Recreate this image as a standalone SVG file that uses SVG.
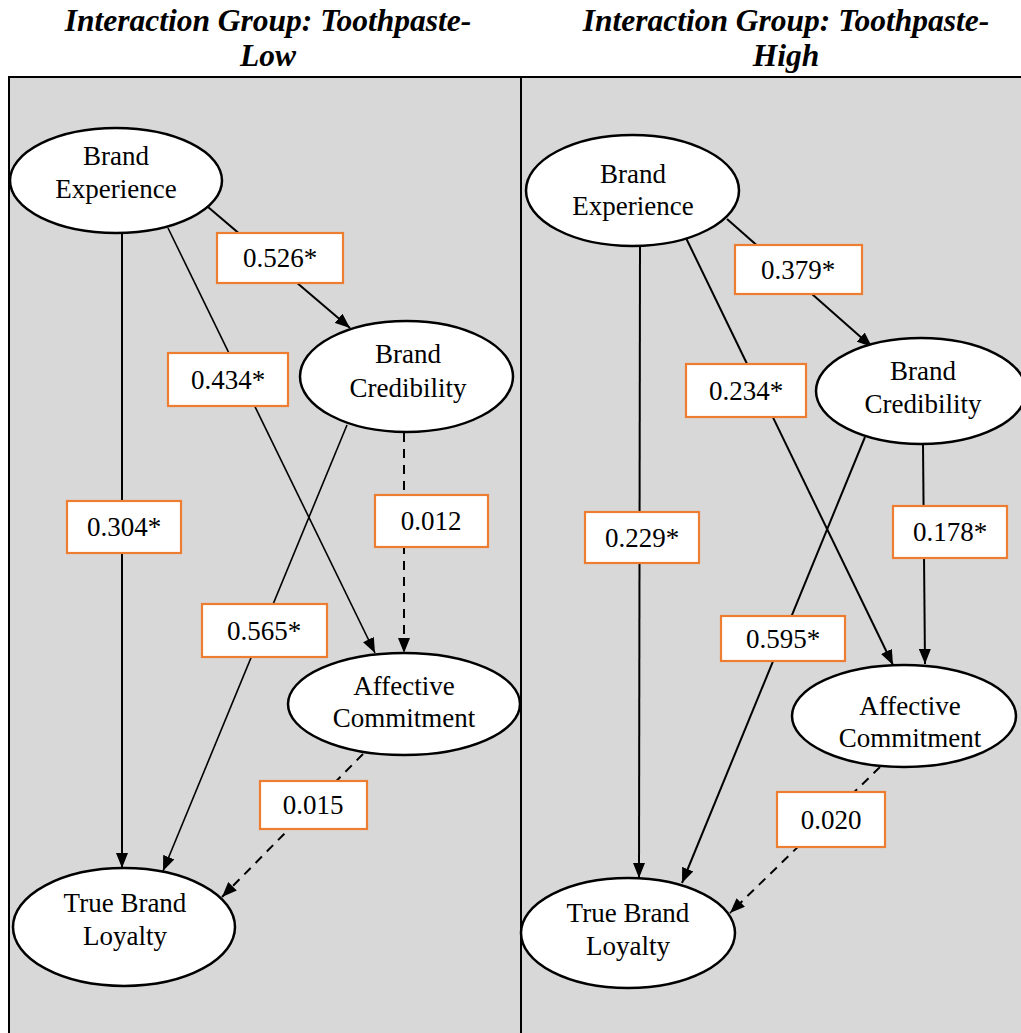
<svg xmlns="http://www.w3.org/2000/svg" width="1021" height="1033" viewBox="0 0 1021 1033">
  <style>
    .title { font-family: "Liberation Serif", "Times New Roman", serif; font-size: 31.5px; font-weight: bold; font-style: italic; fill: #000; text-anchor: middle; }
    .panel { fill: #D8D8D8; stroke: #000; stroke-width: 2; }
    .node ellipse { fill: #fff; stroke: #000; stroke-width: 2.5; }
    .node text, .lbl text { font-family: "Liberation Serif", "Times New Roman", serif; font-size: 27px; fill: #000; text-anchor: middle; }
    .edge { stroke: #000; stroke-width: 2; fill: none; marker-end: url(#arrow); }
    .thin { stroke-width: 1.6; }
    .dash { stroke-dasharray: 9 7; }
    .lbl rect { fill: #fff; stroke: #ED7D31; stroke-width: 2.2; }
  </style>
  <defs>
    <marker id="arrow" markerUnits="userSpaceOnUse" markerWidth="15" markerHeight="12" refX="15" refY="6" orient="auto">
      <path d="M0,0 L15,6 L0,12 z" fill="#000"/>
    </marker>
  </defs>

  <!-- headings -->
  <g id="titles">
    <text class="title" x="268" y="31">Interaction Group: Toothpaste-</text>
    <text class="title" x="268" y="66">Low</text>
    <text class="title" x="786" y="31">Interaction Group: Toothpaste-</text>
    <text class="title" x="786" y="66">High</text>
  </g>

  <!-- two shaded panels -->
  <g id="panels">
    <rect class="panel" x="9" y="77" width="512" height="970"/>
    <rect class="panel" x="521" y="77" width="520" height="970"/>
  </g>

  <g id="connectors">
    <!-- Low group -->
    <g id="low-be-tbl">
      <line class="edge" x1="122" y1="233" x2="122" y2="868"/>
      <g class="lbl"><rect x="67" y="501" width="114" height="52"/><text x="124" y="536">0.304*</text></g>
    </g>
    <g id="low-be-ac">
      <line class="edge thin" x1="168" y1="228" x2="375" y2="653"/>
      <g class="lbl"><rect x="168" y="353" width="120" height="53"/><text x="228" y="389">0.434*</text></g>
    </g>
    <g id="low-be-bc">
      <line class="edge" x1="208" y1="207" x2="350" y2="328"/>
      <g class="lbl"><rect x="217" y="233" width="126" height="50"/><text x="280" y="267">0.526*</text></g>
    </g>
    <g id="low-bc-ac">
      <line class="edge dash" x1="404" y1="433" x2="404" y2="653"/>
      <g class="lbl"><rect x="375" y="495" width="113" height="52"/><text x="431" y="530">0.012</text></g>
    </g>
    <g id="low-bc-tbl">
      <line class="edge thin" x1="347" y1="425" x2="163" y2="871"/>
      <g class="lbl"><rect x="202" y="604" width="125" height="53"/><text x="264" y="640">0.565*</text></g>
    </g>
    <g id="low-ac-tbl">
      <line class="edge dash" x1="363" y1="754" x2="222" y2="897"/>
      <g class="lbl"><rect x="260" y="781" width="107" height="48"/><text x="313" y="814">0.015</text></g>
    </g>

    <!-- High group -->
    <g id="high-be-tbl">
      <line class="edge" x1="640" y1="246" x2="639" y2="878"/>
      <g class="lbl"><rect x="585" y="512" width="114" height="51"/><text x="642" y="547">0.229*</text></g>
    </g>
    <g id="high-be-ac">
      <line class="edge" x1="686" y1="238" x2="893" y2="665"/>
      <g class="lbl"><rect x="686" y="364" width="120" height="53"/><text x="746" y="400">0.234*</text></g>
    </g>
    <g id="high-be-bc">
      <line class="edge" x1="727" y1="219" x2="872" y2="347"/>
      <g class="lbl"><rect x="735" y="245" width="127" height="49"/><text x="798" y="279">0.379*</text></g>
    </g>
    <g id="high-bc-ac">
      <line class="edge" x1="923" y1="444" x2="925" y2="664"/>
      <g class="lbl"><rect x="893" y="506" width="114" height="52"/><text x="950" y="541">0.178*</text></g>
    </g>
    <g id="high-bc-tbl">
      <line class="edge" x1="865" y1="437" x2="682" y2="883"/>
      <g class="lbl"><rect x="721" y="616" width="124" height="45"/><text x="783" y="648">0.595*</text></g>
    </g>
    <g id="high-ac-tbl">
      <line class="edge dash" x1="880" y1="767" x2="730" y2="913"/>
      <g class="lbl"><rect x="777" y="792" width="108" height="55"/><text x="831" y="829">0.020</text></g>
    </g>
  </g>

  <!-- Low group nodes -->
  <g id="low-brand-experience" class="node">
    <ellipse cx="116" cy="180.5" rx="106" ry="52.5"/>
    <text x="116" y="165">Brand</text>
    <text x="116" y="198">Experience</text>
  </g>
  <g id="low-brand-credibility" class="node">
    <ellipse cx="406.5" cy="376.5" rx="106.5" ry="55.5"/>
    <text x="408" y="363">Brand</text>
    <text x="408" y="397">Credibility</text>
  </g>
  <g id="low-affective-commitment" class="node">
    <ellipse cx="404" cy="704" rx="116" ry="51"/>
    <text x="404" y="695">Affective</text>
    <text x="404" y="727">Commitment</text>
  </g>
  <g id="low-true-brand-loyalty" class="node">
    <ellipse cx="124" cy="927" rx="111" ry="59"/>
    <text x="125" y="912">True Brand</text>
    <text x="125" y="945">Loyalty</text>
  </g>

  <!-- High group nodes -->
  <g id="high-brand-experience" class="node">
    <ellipse cx="632.5" cy="190.5" rx="106.5" ry="55.5"/>
    <text x="633" y="183">Brand</text>
    <text x="633" y="215">Experience</text>
  </g>
  <g id="high-brand-credibility" class="node">
    <ellipse cx="921" cy="391" rx="105" ry="53"/>
    <text x="923" y="380">Brand</text>
    <text x="923" y="413">Credibility</text>
  </g>
  <g id="high-affective-commitment" class="node">
    <ellipse cx="904" cy="716" rx="112" ry="51"/>
    <text x="910" y="715">Affective</text>
    <text x="910" y="747">Commitment</text>
  </g>
  <g id="high-true-brand-loyalty" class="node">
    <ellipse cx="628" cy="933" rx="107" ry="55"/>
    <text x="628" y="922">True Brand</text>
    <text x="628" y="955">Loyalty</text>
  </g>
</svg>
